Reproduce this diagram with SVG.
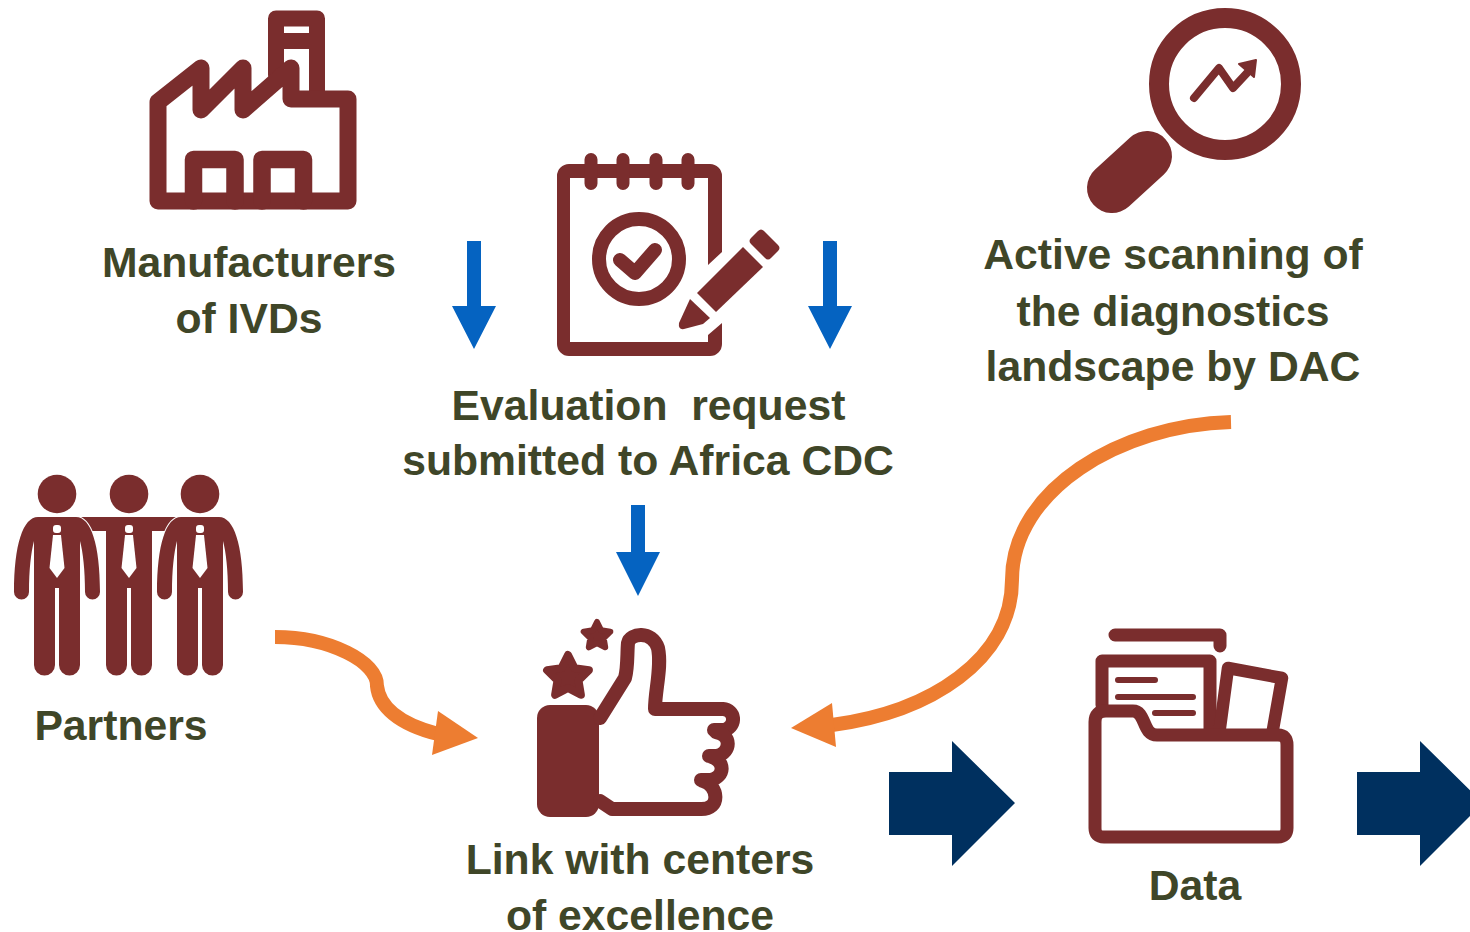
<svg xmlns="http://www.w3.org/2000/svg" xmlns:xlink="http://www.w3.org/1999/xlink" width="1470" height="932" viewBox="0 0 1470 932">
<style>
text{font-family:"Liberation Sans",Arial,sans-serif;font-weight:700;font-size:42.7px;fill:#3f4628;text-anchor:middle;white-space:pre}
.f{fill:#7a2d2d}
.s{fill:none;stroke:#7a2d2d;stroke-linecap:round;stroke-linejoin:round}
.b{fill:#0563c1}
.n{fill:#00305f}
.o{fill:none;stroke:#ed7d31;stroke-width:14}
.oh{fill:#ed7d31}
.w{fill:#fff}
</style>
<defs>
<g id="tie"><rect class="w" x="-4" y="525" width="8" height="8" rx="3"/><polygon class="w" points="-4,535 4,535 7.500,568 0,578 -7.500,568"/></g>
<path id="man" class="f" stroke="#fff" stroke-width="2" paint-order="stroke" d="M0 517H19C34 517 43 545 43 592A7.500 7.500 0 0 1 28 592C28 570 26 552 23 541V665A10.500 10.500 0 0 1 2 665V588H-2V665A10.500 10.500 0 0 1 -23 665V541C-26 552 -28 570 -28 592A7.500 7.500 0 0 1 -43 592C-43 545 -34 517 -19 517Z"/>
</defs>
<rect width="1470" height="932" fill="#fff"/>
<g id="connectors">
<path class="o" d="M275 637C330 637 378 662 377 686C379 706 398 724 438 734"/>
<polygon class="oh" points="478,738 438,711 432,755"/>
<path class="o" d="M1231 422C1120 425 1012 490 1012 580C1012 660 930 712 832 725"/>
<polygon class="oh" points="791,728 832,703 836,747"/>
<polygon class="b" points="467,241 481,241 481,306 496,306 474,349 452,306 467,306"/>
<polygon class="b" points="823,241 837,241 837,306 852,306 830,349 808,306 823,306"/>
<polygon class="b" points="631,505 645,505 645,552 660,552 638,596 616,552 631,552"/>
<polygon class="n" points="889,772 952,772 952,741 1015,803 952,866 952,835 889,835"/>
<polygon class="n" points="1357,772 1420,772 1420,741 1483,803 1420,866 1420,835 1357,835"/>
</g>
<g id="manufacturers">
<path class="s" stroke-width="16" d="M276 75V18.500H317V95M276 41H317"/>
<path class="s" style="fill:#fff" stroke-width="17" d="M158 201V102L201 68V110L243 68V110L291 68V99H348V201Z"/>
<path class="s" stroke-width="17.500" d="M193.500 201V159.500H235V201M262 201V159.500H303.500V201"/>
<text x="249" y="277">Manufacturers</text>
<text x="249" y="333">of IVDs</text>
</g>
<g id="evaluation">
<path class="f" d="M569 164H710A12 12 0 0 1 722 176V252L708 265V178H570V342H708V335L722 323V344A12 12 0 0 1 710 356H569A12 12 0 0 1 557 344V176A12 12 0 0 1 569 164Z"/>
<path class="s" stroke-width="13" d="M591 159.500V183.500M623 159.500V183.500M656 159.500V183.500M688 159.500V183.500"/>
<circle cx="639" cy="259" r="40" fill="none" stroke="#7a2d2d" stroke-width="14"/>
<path class="s" stroke-width="14" d="M620 260L635 273L655 250"/>
<polygon class="f" points="743,247 763,267 716,312 697,293"/>
<path class="f" d="M758 231Q761 228 764 231L778 245Q781 248 778 251L771 258Q768 261 765 258L751 244Q748 241 751 238Z"/>
<path class="f" d="M690 299L710 318L703 324L684 329Q678 330 679 323Z"/>
<text x="648.500" y="420" xml:space="preserve">Evaluation  request</text>
<text x="648" y="475">submitted to Africa CDC</text>
</g>
<g id="scanning">
<circle cx="1225" cy="84" r="66" fill="none" stroke="#7a2d2d" stroke-width="20"/>
<path class="s" stroke-width="50" d="M1112 188L1147 156"/>
<path class="s" stroke-width="8" d="M1194 98L1219 68L1233 88L1247 73"/>
<polygon class="f" stroke="#7a2d2d" stroke-width="2" stroke-linejoin="round" points="1239,64 1256,60 1254,77"/>
<text x="1173" y="269">Active scanning of</text>
<text x="1173" y="326">the diagnostics</text>
<text x="1173" y="381">landscape by DAC</text>
</g>
<g id="partners">
<circle class="f" cx="57" cy="494" r="19.300"/><circle class="f" cx="129" cy="494" r="19.300"/><circle class="f" cx="200" cy="494" r="19.300"/>
<path class="f" d="M80 517H178V531H152V665A10.500 10.500 0 0 1 131 665V588H127V665A10.500 10.500 0 0 1 106 665V531H80Z"/>
<use xlink:href="#man" href="#man" x="57"/><use xlink:href="#man" href="#man" x="200"/>
<use xlink:href="#tie" href="#tie" x="57"/><use xlink:href="#tie" href="#tie" x="129"/><use xlink:href="#tie" href="#tie" x="200"/>
<text x="121" y="740">Partners</text>
</g>
<g id="link">
<rect class="f" x="537" y="705" width="62" height="112" rx="13"/>
<polygon class="f" stroke="#7a2d2d" stroke-width="8" stroke-linejoin="round" points="568,655 574.500,668.100 588.900,670.200 578.500,680.400 580.900,694.800 568,688 555.100,694.800 557.500,680.400 547.100,670.200 561.500,668.100"/>
<polygon class="f" stroke="#7a2d2d" stroke-width="6" stroke-linejoin="round" points="597,622 601.100,630.300 610.300,631.700 603.700,638.200 605.200,647.300 597,643 588.800,647.300 590.300,638.200 583.700,631.700 592.900,630.300"/>
<path class="s" stroke-width="14" d="M600 718L625 678C628 667 627 653 628 643C630 633 652 630 658 648C662 667 655 690 655 709H723C735 710 737 725 725 730H714"/>
<path class="s" stroke-width="14" d="M716 732C732 735 731 752 717 756H709M712 757C725 762 725 776 711 780H701M703 781C718 785 722 810 700 809H612L600 801"/>
<text x="640" y="874">Link with centers</text>
<text x="640" y="930">of excellence</text>
</g>
<g id="data">
<path class="s" stroke-width="13" d="M1115 635H1220V646"/>
<path class="s" stroke-width="13" d="M1102 705V661H1210V735"/>
<path class="s" stroke-width="6" d="M1118 680H1155M1118 697H1193M1155 713H1193"/>
<path class="s" stroke-width="12.500" d="M1219 735L1228 668L1282 678L1272 735"/>
<path class="s" style="fill:#fff" stroke-width="13" d="M1095 722Q1095 711 1106 711H1133C1146 711 1142 735 1157 735H1278Q1287 735 1287 745V828Q1287 837 1278 837H1104Q1095 837 1095 828Z"/>
<text x="1195" y="900">Data</text>
</g>
</svg>
